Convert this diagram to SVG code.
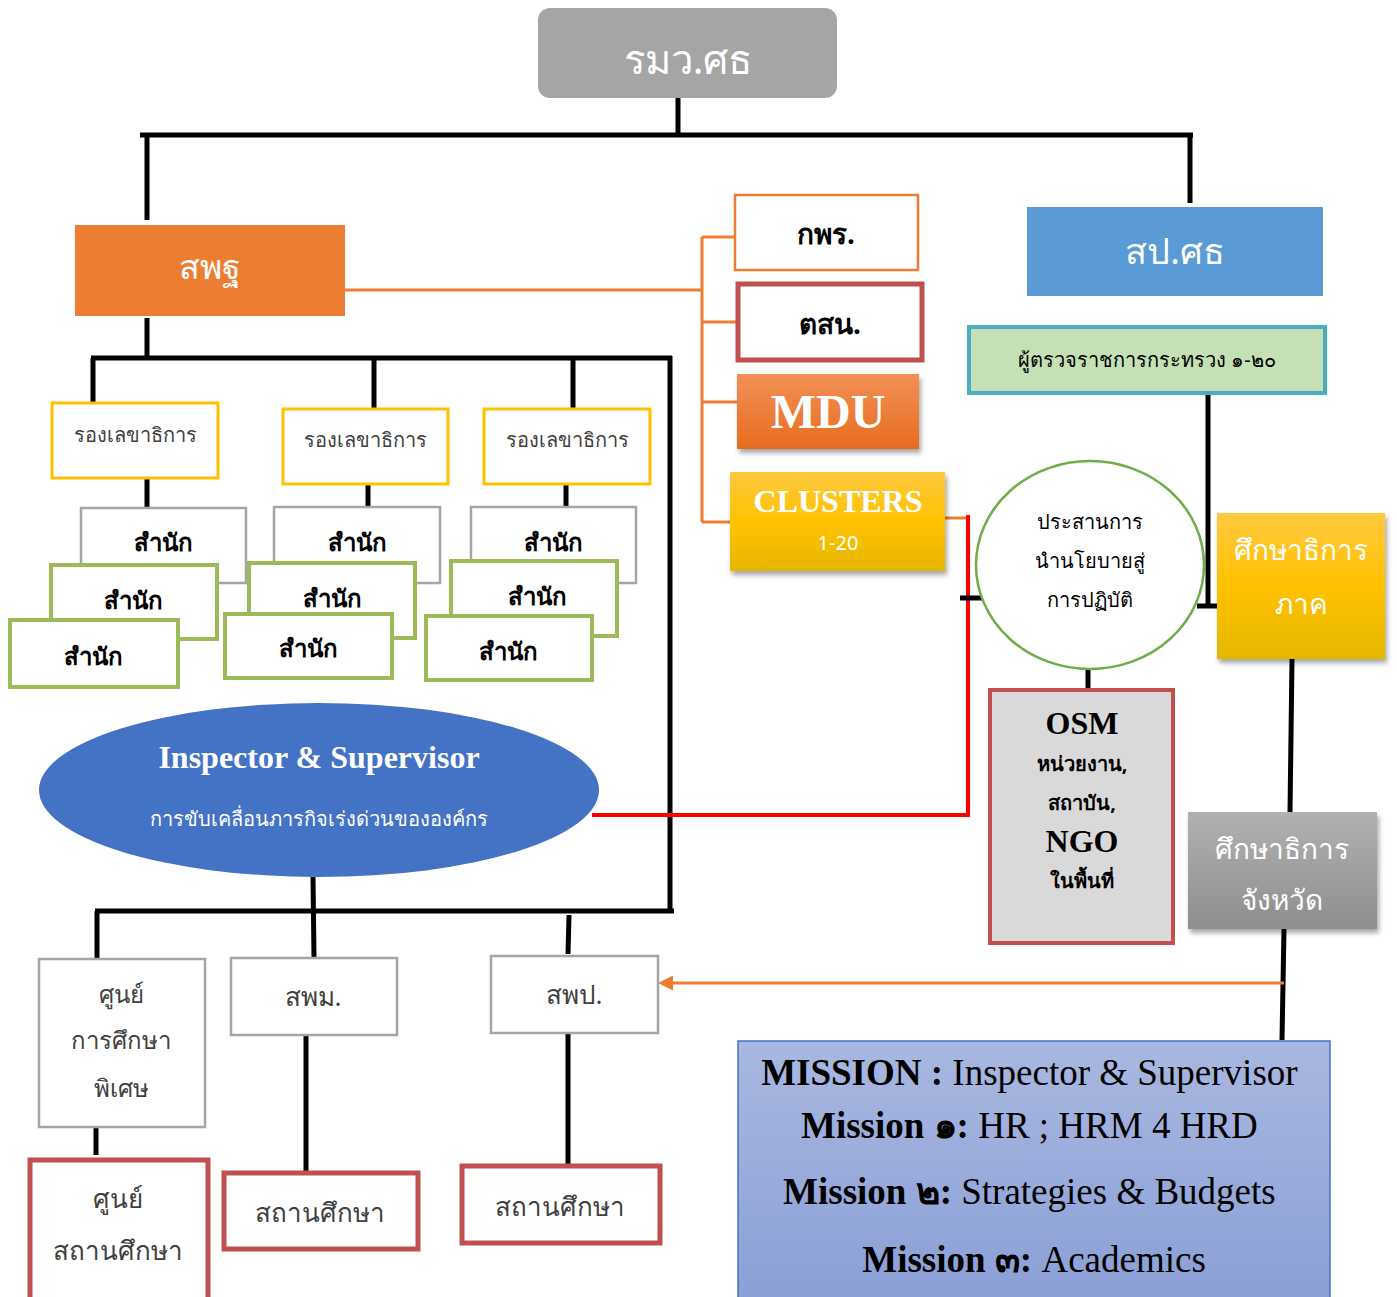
<svg xmlns="http://www.w3.org/2000/svg" width="1397" height="1297" viewBox="0 0 1397 1297">
<defs>
<style>
.th{font-family:"Noto Sans","DejaVu Sans","Liberation Sans",sans-serif;}
.en{font-family:"Liberation Serif","Times New Roman",serif;}
.wt{fill:#ffffff;}
.bk{fill:#000000;}
.gt{fill:#404040;}
.ln{stroke:#000;stroke-width:5;fill:none;}
.or{stroke:#ed7d31;stroke-width:3;fill:none;}
.rd{stroke:#ff0000;stroke-width:4;fill:none;}
.ylw{fill:#fff;stroke:#ffc000;stroke-width:3;}
.gry{fill:#fff;stroke:#a5a5a5;stroke-width:2.5;}
.grn{fill:#fff;stroke:#9bbb59;stroke-width:4;}
.red{fill:#fff;stroke:#c0504d;stroke-width:5;}
.sn{font-size:24px;font-weight:bold;text-anchor:middle;}
.rl{font-size:20px;text-anchor:middle;}
</style>
<linearGradient id="gOr" x1="0" y1="0" x2="0" y2="1"><stop offset="0" stop-color="#f39057"/><stop offset="1" stop-color="#e66c1e"/></linearGradient>
<linearGradient id="gYe" x1="0" y1="0" x2="0" y2="1"><stop offset="0" stop-color="#ffc940"/><stop offset="0.5" stop-color="#ffc200"/><stop offset="1" stop-color="#e6b700"/></linearGradient>
<linearGradient id="gGr" x1="0" y1="0" x2="0" y2="1"><stop offset="0" stop-color="#b1b1b1"/><stop offset="1" stop-color="#8e8e8e"/></linearGradient>
<linearGradient id="gBl" x1="0" y1="0" x2="0" y2="1"><stop offset="0" stop-color="#a9b8e0"/><stop offset="1" stop-color="#8a9fd6"/></linearGradient>
<filter id="sh" x="-10%" y="-10%" width="130%" height="130%"><feDropShadow dx="2" dy="4" stdDeviation="2.5" flood-color="#000" flood-opacity="0.35"/></filter>
<marker id="arr" viewBox="0 0 10 10" refX="2" refY="5" markerWidth="5" markerHeight="5" orient="auto-start-reverse" markerUnits="strokeWidth"><path d="M0,0 L10,5 L0,10 z" fill="#ed7d31"/></marker>
</defs>
<rect width="1397" height="1297" fill="#ffffff"/>

<g id="connectors">
<path class="ln" d="M678,98 V135 M140,135 H1193 M147,135 V220 M1190,135 V203"/>
<path class="ln" d="M147,318 V358 M91,358 H672 M670,356 V913 M93,358 V403 M374,360 V408 M573,360 V408"/>
<path class="ln" d="M147,478 V508 M368,484 V507 M566,484 V507"/>
<path class="or" d="M345,290 H702 M702,237 V522 M702,237 H734 M702,322 H737 M702,402 H737 M702,522 H730"/>
<path class="or" d="M945,518 H970"/>
<path class="rd" d="M968,515 V815 H592"/>
<path class="ln" d="M960,598 H985"/>
<path class="ln" d="M1208,393 V606 M1197,606 H1221"/>
<path class="ln" d="M1088,668 V690"/>
<path class="ln" d="M1292,659 L1290,812 M1284,929 L1282,1040"/>
<path class="or" d="M1284,983 H670" marker-end="url(#arr)"/>
<path class="ln" d="M313,877 L314,957 M95,911 H674 M97,911 V958 M569,915 L568,954"/>
<path class="ln" d="M96,1127 V1155 M306,1035 V1171 M568,1033 V1166"/>
</g>

<g id="n_rmw"><rect x="538" y="8" width="299" height="90" rx="12" fill="#a5a5a5"/><text class="th wt" x="688" y="74" font-size="40" text-anchor="middle">รมว.ศธ</text></g>

<g id="n_spt"><rect x="75" y="225" width="270" height="91" fill="#ed7d31"/><text class="th wt" x="210" y="279" font-size="34" text-anchor="middle">สพฐ</text></g>

<g id="n_kpr"><rect x="735" y="195" width="183" height="75" fill="#fff" stroke="#ed7d31" stroke-width="2.5"/><text class="th bk" x="826" y="244" font-size="28" font-weight="bold" text-anchor="middle">กพร.</text></g>
<g id="n_tsn"><rect x="738" y="284" width="184" height="76" class="red" stroke-width="4"/><text class="th bk" x="830" y="334" font-size="28" font-weight="bold" text-anchor="middle">ตสน.</text></g>
<g id="n_mdu"><rect x="737" y="374" width="182" height="75" fill="url(#gOr)" filter="url(#sh)"/><text class="en wt" x="828" y="428" font-size="48" font-weight="bold" text-anchor="middle">MDU</text></g>
<g id="n_clusters"><rect x="730" y="472" width="215" height="99" fill="url(#gYe)" filter="url(#sh)"/><text class="en wt" x="838" y="512" font-size="32" font-weight="bold" text-anchor="middle">CLUSTERS</text><text class="th wt" x="838" y="550" font-size="20" text-anchor="middle">1-20</text></g>

<g id="n_sp"><rect x="1027" y="207" width="296" height="89" fill="#5b9bd5"/><text class="th wt" x="1175" y="264" font-size="36" text-anchor="middle">สป.ศธ</text></g>
<g id="n_insp"><rect x="969" y="327" width="356" height="66" fill="#c5e0b4" stroke="#4bacc6" stroke-width="4"/><text class="th bk" x="1147" y="367" font-size="20" text-anchor="middle">ผู้ตรวจราชการกระทรวง ๑-๒๐</text></g>

<g id="n_coord"><ellipse cx="1090" cy="565" rx="114" ry="104" fill="#fff" stroke="#70ad47" stroke-width="2.5"/>
<text class="th bk" font-size="20" text-anchor="middle"><tspan x="1090" y="529">ประสานการ</tspan><tspan x="1090" y="568">นำนโยบายสู่</tspan><tspan x="1090" y="607">การปฏิบัติ</tspan></text></g>

<g id="n_region"><rect x="1217" y="513" width="168" height="146" fill="url(#gYe)" filter="url(#sh)"/><text class="th wt" font-size="28" text-anchor="middle"><tspan x="1301" y="560">ศึกษาธิการ</tspan><tspan x="1301" y="614">ภาค</tspan></text></g>

<g id="n_osm"><rect x="990" y="690" width="183" height="253" fill="#d9d9d9" stroke="#c0504d" stroke-width="4"/>
<text class="en bk" x="1082" y="734" font-size="32" font-weight="bold" text-anchor="middle">OSM</text>
<text class="th bk" x="1082" y="771" font-size="20" font-weight="bold" text-anchor="middle">หน่วยงาน,</text>
<text class="th bk" x="1082" y="810" font-size="20" font-weight="bold" text-anchor="middle">สถาบัน,</text>
<text class="en bk" x="1082" y="852" font-size="32" font-weight="bold" text-anchor="middle">NGO</text>
<text class="th bk" x="1082" y="888" font-size="20" font-weight="bold" text-anchor="middle">ในพื้นที่</text></g>

<g id="n_province"><rect x="1188" y="812" width="189" height="117" fill="url(#gGr)" filter="url(#sh)"/><text class="th wt" font-size="28" text-anchor="middle"><tspan x="1282" y="859">ศึกษาธิการ</tspan><tspan x="1282" y="910">จังหวัด</tspan></text></g>

<g id="n_dep1"><rect x="52" y="403" width="166" height="75" class="ylw"/><text class="th gt rl" x="135" y="442">รองเลขาธิการ</text></g>
<g id="n_dep2"><rect x="283" y="409" width="165" height="75" class="ylw"/><text class="th gt rl" x="365" y="447">รองเลขาธิการ</text></g>
<g id="n_dep3"><rect x="484" y="409" width="166" height="75" class="ylw"/><text class="th gt rl" x="567" y="447">รองเลขาธิการ</text></g>

<g id="n_off1a"><rect x="81" y="508" width="165" height="75" class="gry"/><text class="th bk sn" x="163" y="551">สำนัก</text></g>
<g id="n_off1b"><rect x="51" y="565" width="166" height="74" class="grn"/><text class="th bk sn" x="133" y="609">สำนัก</text></g>
<g id="n_off1c"><rect x="10" y="620" width="168" height="67" class="grn"/><text class="th bk sn" x="93" y="665">สำนัก</text></g>

<g id="n_off2a"><rect x="274" y="507" width="166" height="76" class="gry"/><text class="th bk sn" x="357" y="551">สำนัก</text></g>
<g id="n_off2b"><rect x="249" y="563" width="166" height="75" class="grn"/><text class="th bk sn" x="332" y="607">สำนัก</text></g>
<g id="n_off2c"><rect x="225" y="614" width="167" height="64" class="grn"/><text class="th bk sn" x="308" y="657">สำนัก</text></g>

<g id="n_off3a"><rect x="471" y="507" width="165" height="76" class="gry"/><text class="th bk sn" x="553" y="551">สำนัก</text></g>
<g id="n_off3b"><rect x="451" y="561" width="166" height="75" class="grn"/><text class="th bk sn" x="537" y="605">สำนัก</text></g>
<g id="n_off3c"><rect x="426" y="616" width="166" height="64" class="grn"/><text class="th bk sn" x="508" y="660">สำนัก</text></g>

<g id="n_is"><ellipse cx="319" cy="790" rx="280" ry="87" fill="#4472c4"/>
<text class="en wt" x="319" y="768" font-size="32" font-weight="bold" text-anchor="middle">Inspector &amp; Supervisor</text>
<text class="th wt" x="319" y="826" font-size="20" text-anchor="middle">การขับเคลื่อนภารกิจเร่งด่วนขององค์กร</text></g>

<g id="n_special"><rect x="39" y="959" width="166" height="168" class="gry"/><text class="th gt" font-size="24" text-anchor="middle"><tspan x="121" y="1003">ศูนย์</tspan><tspan x="121" y="1049">การศึกษา</tspan><tspan x="121" y="1097">พิเศษ</tspan></text></g>
<g id="n_spm"><rect x="231" y="958" width="166" height="77" class="gry"/><text class="th gt" x="313" y="1006" font-size="26" text-anchor="middle">สพม.</text></g>
<g id="n_spp"><rect x="491" y="956" width="167" height="77" class="gry"/><text class="th gt" x="574" y="1004" font-size="26" text-anchor="middle">สพป.</text></g>

<g id="n_school0"><rect x="30" y="1160" width="178" height="145" class="red"/><text class="th gt" font-size="26" text-anchor="middle"><tspan x="118" y="1208">ศูนย์</tspan><tspan x="118" y="1260">สถานศึกษา</tspan></text></g>
<g id="n_school1"><rect x="224" y="1173" width="194" height="76" class="red"/><text class="th gt" x="320" y="1222" font-size="26" text-anchor="middle">สถานศึกษา</text></g>
<g id="n_school2"><rect x="462" y="1166" width="198" height="77" class="red"/><text class="th gt" x="560" y="1216" font-size="26" text-anchor="middle">สถานศึกษา</text></g>

<g id="n_mission"><rect x="738" y="1041" width="592" height="262" fill="url(#gBl)" stroke="#4472c4" stroke-width="1.5"/>
<text class="en bk" font-size="37" text-anchor="middle">
<tspan x="1034" y="1085"><tspan font-weight="bold">MISSION :</tspan> Inspector &amp; Supervisor</tspan>
<tspan x="1034" y="1138"><tspan font-weight="bold">Mission ๑:</tspan> HR ; HRM 4 HRD</tspan>
<tspan x="1034" y="1204"><tspan font-weight="bold">Mission ๒:</tspan> Strategies &amp; Budgets</tspan>
<tspan x="1034" y="1272"><tspan font-weight="bold">Mission ๓:</tspan> Academics</tspan>
</text></g>
</svg>
